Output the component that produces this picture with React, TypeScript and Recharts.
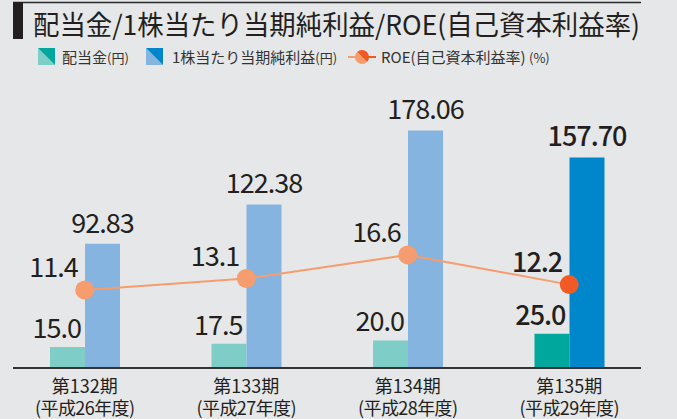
import React from 'react';
import { ComposedChart, Bar, Line, XAxis, YAxis, Cell, LabelList } from 'recharts';

const periods = ['第132期', '第133期', '第134期', '第135期'];
const fiscalYears = ['(平成26年度)', '(平成27年度)', '(平成28年度)', '(平成29年度)'];
const dividends = [15.0, 17.5, 20.0, 25.0];
const eps = [92.83, 122.38, 178.06, 157.7];
const roe = [11.4, 13.1, 16.6, 12.2];

const data = periods.map((p, i) => ({
  period: p,
  year: fiscalYears[i],
  dividend: dividends[i],
  eps: eps[i],
  roe: roe[i],
}));

const FONT = '"Noto Sans CJK JP", "Noto Sans", sans-serif';
const TEXT = '#231f20';
const BG = '#e6e7e8';
const TEAL_L = '#7ecdc7';
const TEAL_D = '#00a79d';
const BLUE_L = '#86b4e0';
const BLUE_D = '#0086ca';
const ORANGE_L = '#f59d6e';
const ORANGE_D = '#f15a24';
const LAST = periods.length - 1;

function getBox(props: any) {
  const vb = props.viewBox || {};
  return {
    x: props.x ?? vb.x ?? 0,
    y: props.y ?? vb.y ?? 0,
    width: props.width ?? vb.width ?? 0,
    height: props.height ?? vb.height ?? 0,
  };
}

const valueWeight = (idx: number) => (idx === LAST ? 500 : 400);

const DividendLabel = (props: any) => {
  const { x, y, width } = getBox(props);
  const idx = props.index;
  return (
    <text x={x + width - 4} y={y - 9} textAnchor="end" fontFamily={FONT} fontSize={27}
      letterSpacing={-1} fill={TEXT} fontWeight={valueWeight(idx)}>
      {Number(props.value).toFixed(1)}
    </text>
  );
};

const EpsLabel = (props: any) => {
  const { x, y, width } = getBox(props);
  const idx = props.index;
  return (
    <text x={x + width / 2} y={y - 11} textAnchor="middle" fontFamily={FONT} fontSize={27}
      letterSpacing={-1} fill={TEXT} fontWeight={valueWeight(idx)}>
      {Number(props.value).toFixed(2)}
    </text>
  );
};

const RoeLabel = (props: any) => {
  const { x, y } = getBox(props);
  const idx = props.index;
  return (
    <text x={x - 7} y={y - 13} textAnchor="end" fontFamily={FONT} fontSize={27}
      letterSpacing={-1} fill={TEXT} fontWeight={valueWeight(idx)}>
      {Number(props.value).toFixed(1)}
    </text>
  );
};

const RoeDot = (props: any) => {
  const { cx, cy, index } = props;
  if (cx == null || cy == null) return null;
  return <circle key={`dot-${index}`} cx={cx} cy={cy} r={9.5} fill={index === LAST ? ORANGE_D : ORANGE_L} />;
};

const PeriodTick = (props: any) => {
  const { x, y, payload, index } = props;
  const i = index ?? periods.indexOf(payload.value);
  return (
    <g>
      <text x={x} y={y + 18} textAnchor="middle" fontFamily={FONT} fontSize={18} fill={TEXT}>
        {payload.value}
      </text>
      <text x={x} y={y + 40} textAnchor="middle" fontFamily={FONT} fontSize={18} fill={TEXT} letterSpacing={-0.6}>
        {fiscalYears[i]}
      </text>
    </g>
  );
};

function SplitSquare({ x, y, s, light, dark }: { x: number; y: number; s: number; light: string; dark: string }) {
  return (
    <g>
      <polygon points={`${x},${y} ${x},${y + s} ${x + s},${y + s}`} fill={light} />
      <polygon points={`${x},${y} ${x + s},${y} ${x + s},${y + s}`} fill={dark} />
    </g>
  );
}

function Overlay() {
  const cx = 362;
  const cy = 57;
  const r = 7;
  const d = r / Math.SQRT2;
  return (
    <svg width={677} height={419} style={{ position: 'absolute', left: 0, top: 0, pointerEvents: 'none' }}>
      <line x1={13} y1={2.5} x2={641} y2={2.5} stroke="#2b2b2b" strokeWidth={1.5} />
      <rect x={13} y={2} width={10} height={37} fill={TEXT} />
      <text x={33} y={35} fontFamily={FONT} fontSize={27} fill={TEXT} textLength={607} lengthAdjust="spacingAndGlyphs">
        配当金/1株当たり当期純利益/ROE(自己資本利益率)
      </text>
      <SplitSquare x={38} y={48} s={17} light={TEAL_L} dark={TEAL_D} />
      <text x={62} y={63} fontFamily={FONT} fontSize={15} fill="#333">
        配当金<tspan fontSize={13}>(円)</tspan>
      </text>
      <SplitSquare x={146} y={48} s={17} light={BLUE_L} dark={BLUE_D} />
      <text x={172} y={63} fontFamily={FONT} fontSize={15} fill="#333">
        1株当たり当期純利益<tspan fontSize={13}>(円)</tspan>
      </text>
      <line x1={348} y1={cy} x2={cx} y2={cy} stroke={ORANGE_L} strokeWidth={2} />
      <line x1={cx} y1={cy} x2={376} y2={cy} stroke={ORANGE_D} strokeWidth={2} />
      <path d={`M${cx - d},${cy - d} A${r},${r} 0 0 1 ${cx + d},${cy + d} Z`} fill={ORANGE_D} />
      <path d={`M${cx + d},${cy + d} A${r},${r} 0 0 1 ${cx - d},${cy - d} Z`} fill={ORANGE_L} />
      <text x={381} y={63} fontFamily={FONT} fontSize={15} fill="#333">
        ROE(自己資本利益率) <tspan fontSize={13}>(%)</tspan>
      </text>
      <line x1={13} y1={368} x2={641} y2={368} stroke="#333" strokeWidth={2} />
    </svg>
  );
}

export default function App() {
  return (
    <div style={{ position: 'absolute', left: 0, top: 0, width: 677, height: 419, background: BG, overflow: 'hidden' }}>
      <ComposedChart width={677} height={419} data={data} margin={{ top: 80, right: 27, left: 4, bottom: 0 }}
        barSize={35} barGap={0}>
        <XAxis dataKey="period" height={52} axisLine={false} tickLine={false} tick={<PeriodTick />} interval={0} />
        <YAxis yAxisId="bar" hide domain={[0, 216]} />
        <YAxis yAxisId="roe" orientation="right" hide domain={[0, 42.5]} />
        <Bar yAxisId="bar" dataKey="dividend" isAnimationActive={false}>
          {data.map((_, i) => (
            <Cell key={`d-${i}`} fill={i === LAST ? TEAL_D : TEAL_L} />
          ))}
          <LabelList dataKey="dividend" content={<DividendLabel />} />
        </Bar>
        <Bar yAxisId="bar" dataKey="eps" isAnimationActive={false}>
          {data.map((_, i) => (
            <Cell key={`e-${i}`} fill={i === LAST ? BLUE_D : BLUE_L} />
          ))}
          <LabelList dataKey="eps" content={<EpsLabel />} />
        </Bar>
        <Line yAxisId="roe" type="linear" dataKey="roe" stroke={ORANGE_L} strokeWidth={2}
          dot={<RoeDot />} activeDot={false} isAnimationActive={false}>
          <LabelList dataKey="roe" content={<RoeLabel />} />
        </Line>
      </ComposedChart>
      <Overlay />
    </div>
  );
}
